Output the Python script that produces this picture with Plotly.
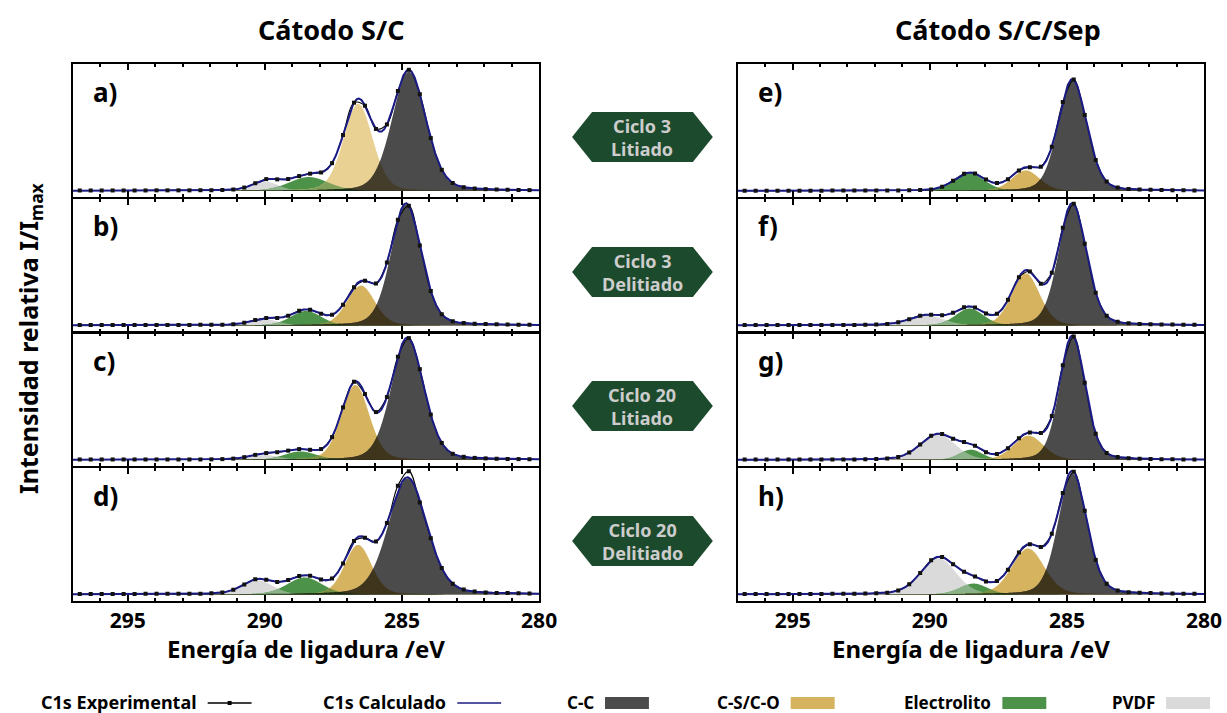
import numpy as np
import plotly.graph_objects as go

W, H = 1227, 713          # target picture size (px)
LAYOUT_W = 1243           # the page renders the figure 16px narrower than its layout width

# ---------------- data ----------------
panel_labels = ["a)", "b)", "c)", "d)", "e)", "f)", "g)", "h)"]
cycle_labels = ["Ciclo 3<br>Litiado", "Ciclo 3<br>Delitiado", "Ciclo 20<br>Litiado", "Ciclo 20<br>Delitiado"]
column_titles = ["Cátodo S/C", "Cátodo S/C/Sep"]
x_title = "Energía de ligadura /eV"
y_title = "Intensidad relativa I/I<sub>max</sub>"
legend_names = ["C1s Experimental", "C1s Calculado", "C-C", "C-S/C-O", "Electrolito", "PVDF"]

# binding energies of the experimental points (eV)
energy = [296.75, 296.35, 295.95, 295.55, 295.15, 294.75, 294.35, 293.95, 293.55, 293.15,
          292.75, 292.35, 291.95, 291.55, 291.15, 290.75, 290.35, 289.95, 289.55, 289.15,
          288.75, 288.35, 287.95, 287.55, 287.15, 286.75, 286.35, 285.95, 285.55, 285.15,
          284.75, 284.35, 283.95, 283.55, 283.15, 282.75, 282.35, 281.95, 281.55, 281.15,
          280.75, 280.35]

# experimental C1s intensities (I/Imax) per panel
exp_a = [0.004, 0.004, 0.004, 0.004, 0.004, 0.004, 0.004, 0.005, 0.005, 0.005,
         0.005, 0.006, 0.006, 0.008, 0.012, 0.028, 0.064, 0.098, 0.096, 0.099,
         0.123, 0.143, 0.153, 0.230, 0.463, 0.730, 0.705, 0.513, 0.550, 0.827,
         1.002, 0.800, 0.437, 0.175, 0.066, 0.031, 0.020, 0.015, 0.012, 0.010,
         0.008, 0.007]
exp_b = [0.004, 0.004, 0.004, 0.004, 0.004, 0.004, 0.004, 0.004, 0.004, 0.004,
         0.004, 0.005, 0.005, 0.006, 0.010, 0.023, 0.046, 0.062, 0.062, 0.081,
         0.122, 0.130, 0.096, 0.089, 0.172, 0.316, 0.370, 0.347, 0.520, 0.875,
         0.990, 0.661, 0.284, 0.093, 0.034, 0.021, 0.014, 0.011, 0.009, 0.007,
         0.006, 0.005]
exp_c = [0.004, 0.004, 0.004, 0.004, 0.004, 0.004, 0.004, 0.004, 0.004, 0.004,
         0.004, 0.004, 0.005, 0.007, 0.011, 0.023, 0.042, 0.057, 0.064, 0.077,
         0.090, 0.084, 0.090, 0.189, 0.435, 0.647, 0.545, 0.396, 0.520, 0.854,
         1.008, 0.751, 0.375, 0.141, 0.051, 0.026, 0.017, 0.013, 0.010, 0.008,
         0.007, 0.006]
exp_d = [0.004, 0.004, 0.004, 0.004, 0.004, 0.004, 0.005, 0.005, 0.005, 0.005,
         0.005, 0.006, 0.009, 0.016, 0.039, 0.083, 0.125, 0.122, 0.104, 0.119,
         0.153, 0.155, 0.123, 0.132, 0.257, 0.442, 0.468, 0.437, 0.590, 0.900,
         1.020, 0.760, 0.465, 0.218, 0.089, 0.041, 0.024, 0.017, 0.013, 0.011,
         0.009, 0.008]
exp_e = [0.002, 0.002, 0.002, 0.002, 0.002, 0.002, 0.002, 0.002, 0.003, 0.003,
         0.003, 0.003, 0.003, 0.004, 0.004, 0.005, 0.007, 0.013, 0.035, 0.085,
         0.142, 0.145, 0.094, 0.065, 0.097, 0.170, 0.197, 0.200, 0.366, 0.735,
         0.921, 0.629, 0.256, 0.078, 0.028, 0.016, 0.012, 0.009, 0.007, 0.006,
         0.005, 0.004]
exp_f = [0.003, 0.003, 0.003, 0.003, 0.003, 0.003, 0.004, 0.004, 0.004, 0.004,
         0.004, 0.005, 0.007, 0.012, 0.026, 0.052, 0.081, 0.089, 0.085, 0.105,
         0.151, 0.148, 0.098, 0.096, 0.212, 0.399, 0.446, 0.345, 0.436, 0.808,
         1.007, 0.676, 0.270, 0.081, 0.031, 0.018, 0.013, 0.010, 0.008, 0.007,
         0.006, 0.005]
exp_g = [0.003, 0.003, 0.003, 0.003, 0.003, 0.003, 0.003, 0.003, 0.003, 0.003,
         0.003, 0.006, 0.007, 0.011, 0.024, 0.061, 0.128, 0.200, 0.215, 0.175,
         0.149, 0.117, 0.063, 0.050, 0.097, 0.180, 0.228, 0.222, 0.363, 0.783,
         1.021, 0.638, 0.217, 0.058, 0.024, 0.015, 0.010, 0.008, 0.006, 0.005,
         0.004, 0.004]
exp_h = [0.003, 0.003, 0.003, 0.003, 0.003, 0.004, 0.004, 0.004, 0.005, 0.005,
         0.005, 0.007, 0.010, 0.015, 0.032, 0.084, 0.177, 0.282, 0.309, 0.250,
         0.188, 0.148, 0.107, 0.112, 0.204, 0.348, 0.416, 0.393, 0.503, 0.840,
         1.014, 0.693, 0.285, 0.089, 0.033, 0.019, 0.014, 0.011, 0.008, 0.007,
         0.006, 0.005]
experimental = [exp_a, exp_b, exp_c, exp_d, exp_e, exp_f, exp_g, exp_h]

# fitted components (pseudo-Voigt): centre (eV), height (I/Imax), FWHM (eV)
cc_center = [284.75, 284.85, 284.80, 284.80, 284.80, 284.80, 284.80, 284.80]
cc_height = [0.985, 1.000, 1.000, 0.960, 0.920, 1.000, 1.020, 1.000]
cc_fwhm = [1.45, 1.30, 1.40, 1.65, 1.22, 1.20, 1.10, 1.23]
cs_center = [286.60, 286.50, 286.70, 286.60, 286.50, 286.50, 286.40, 286.42]
cs_height = [0.720, 0.330, 0.620, 0.410, 0.170, 0.430, 0.200, 0.380]
cs_fwhm = [1.25, 1.20, 1.20, 1.15, 1.20, 1.20, 1.30, 1.40]
el_center = [288.40, 288.50, 288.70, 288.55, 288.55, 288.55, 288.50, 288.40]
el_height = [0.115, 0.120, 0.070, 0.140, 0.145, 0.140, 0.085, 0.090]
el_fwhm = [1.70, 1.30, 1.40, 1.50, 1.30, 1.20, 1.00, 1.20]
pv_center = [289.95, 290.00, 290.00, 290.25, 290.00, 290.10, 289.70, 289.68]
pv_height = [0.075, 0.050, 0.040, 0.115, 0.000, 0.080, 0.210, 0.300]
pv_fwhm = [1.10, 1.20, 1.30, 1.30, 1.20, 1.50, 1.50, 1.50]
lorentz_fraction = 0.2

# ---------------- styling ----------------
FONT = "Noto Sans"
COL_CC = (75, 75, 75)
COL_CS = (214, 179, 94)
COL_CS_A = (232, 209, 147)
COL_EL = (77, 146, 73)
COL_PV = (218, 218, 218)
NAVY = "#1b1b85"
HEX_GREEN = "#1c4a2c"


def rgb(c):
    return "rgb(%d,%d,%d)" % tuple(int(round(v)) for v in c)


def multiply(c1, c2):
    return tuple(a * b / 255.0 for a, b in zip(c1, c2))


def blend(c1, c2, f=0.5):
    return tuple(a * f + b * (1 - f) for a, b in zip(c1, c2))


def pvoigt(x, c, h, w, m=lorentz_fraction):
    t = (x - c) / w
    return h * ((1 - m) * np.exp(-4 * np.log(2) * t ** 2) + m / (1 + 4 * t ** 2))


def px(x):
    return x / W


def py(y):
    return 1 - y / H


def ann(x, y, text, size, color="black", xanchor="center", yanchor="middle", angle=0):
    fig.add_annotation(x=px(x), y=py(y), xref="paper", yref="paper", text=text,
                       showarrow=False, xanchor=xanchor, yanchor=yanchor,
                       textangle=angle, font=dict(family=FONT, size=size, color=color))


col_x = [(73, 540), (739, 1206)]
row_top = [64, 198.5, 333, 467.5]
row_h = 133

fig = go.Figure()
xf = np.linspace(297, 280, 1201)

for i in range(8):
    col, row = divmod(i, 4)
    n = i + 1
    xname = "x" if n == 1 else "x%d" % n
    yname = "y" if n == 1 else "y%d" % n

    cc = pvoigt(xf, cc_center[i], cc_height[i], cc_fwhm[i])
    cs = pvoigt(xf, cs_center[i], cs_height[i], cs_fwhm[i])
    el = pvoigt(xf, el_center[i], el_height[i], el_fwhm[i])
    pvdf = pvoigt(xf, pv_center[i], pv_height[i], pv_fwhm[i])
    total = cc + cs + el + pvdf
    ccs = COL_CS_A if i == 0 else COL_CS

    layers = [(pvdf, COL_PV), (el, COL_EL), (cs, ccs), (cc, COL_CC),
              (np.minimum(pvdf, el), blend(COL_PV, COL_EL, 0.45)),
              (np.minimum(el, cs), blend(multiply(COL_EL, ccs), blend(COL_EL, ccs), 0.3)),
              (np.minimum(cs, cc), multiply(ccs, COL_CC)),
              (np.minimum(el, cc), multiply(COL_EL, COL_CC))]
    for yv, c in layers:
        fig.add_trace(go.Scatter(x=xf, y=yv, mode="none", fill="tozeroy",
                                 fillcolor=rgb(c), xaxis=xname, yaxis=yname,
                                 showlegend=False, hoverinfo="skip"))

    fig.add_trace(go.Scatter(x=energy, y=experimental[i], mode="lines",
                             line=dict(color="black", width=1.1, shape="spline", smoothing=1.0),
                             xaxis=xname, yaxis=yname, showlegend=False, hoverinfo="skip"))
    fig.add_trace(go.Scatter(x=xf, y=total, mode="lines",
                             line=dict(color=NAVY, width=2),
                             xaxis=xname, yaxis=yname, showlegend=False, hoverinfo="skip"))
    fig.add_trace(go.Scatter(x=energy, y=experimental[i], mode="markers",
                             marker=dict(symbol="square", size=4, color="#111111"),
                             xaxis=xname, yaxis=yname, showlegend=False, hoverinfo="skip"))

    x0, x1 = col_x[col]
    top = row_top[row]
    xkey = "xaxis" if n == 1 else "xaxis%d" % n
    ykey = "yaxis" if n == 1 else "yaxis%d" % n
    fig.layout[xkey] = dict(
        domain=[px(x0), px(x1)], range=[297, 280], anchor=yname,
        showline=True, linewidth=2, linecolor="black", mirror="allticks",
        ticks="inside", ticklen=6, tickwidth=1.5, tickcolor="black",
        tickmode="linear", tick0=280, dtick=5,
        minor=dict(ticks="inside", ticklen=3, tickwidth=1.5, tickcolor="black", dtick=1, tick0=280),
        showticklabels=(row == 3),
        tickfont=dict(family=FONT, size=21, color="black", weight="bold"),
        showgrid=False, zeroline=False)
    fig.layout[ykey] = dict(
        domain=[py(top + row_h), py(top)], range=[-0.05, 1.05], anchor=xname,
        showline=True, linewidth=2, linecolor="black", mirror=True,
        ticks="", showticklabels=False, showgrid=False, zeroline=False)

    ann(x0 + 18, top + 28, "<b>%s</b>" % panel_labels[i], 26, xanchor="left")

# column titles and axis titles
title_cx = [332, 1000]
for c in range(2):
    x0, x1 = col_x[c]
    ann(title_cx[c], 30, "<b>%s</b>" % column_titles[c], 27)
    ann((x0 + x1) / 2, 648, "<b>%s</b>" % x_title, 24)

ann(29, 338, "<b>%s</b>" % y_title, 25, angle=-90)

# hexagon labels
hex_centers = [137, 272, 406, 541]
for k, yc in enumerate(hex_centers):
    xl, xr, xi0, xi1 = 573, 714, 593, 694
    yt, yb = yc - 25, yc + 25
    path = "M %f %f L %f %f L %f %f L %f %f L %f %f L %f %f Z" % (
        px(xl), py(yc), px(xi0), py(yt), px(xi1), py(yt),
        px(xr), py(yc), px(xi1), py(yb), px(xi0), py(yb))
    fig.add_shape(type="path", path=path, xref="paper", yref="paper",
                  fillcolor=HEX_GREEN, line=dict(width=0))
    ann((xl + xr) / 2, yc, "<b>%s</b>" % cycle_labels[k], 18, color="#cdcdcd")

# custom legend (text then symbol)
ly = 703
legend_sym_left = [208, 458, 606, 792, 1004, 1168]
legend_font = [18, 18, 17, 17, 17, 17]
sym_w = 44
for k, name in enumerate(legend_names):
    sx = legend_sym_left[k]
    ann(sx - 9, ly - 1, "<b>%s</b>" % name, legend_font[k], xanchor="right")
    if k == 0:
        fig.add_shape(type="line", x0=px(sx), x1=px(sx + sym_w), y0=py(ly), y1=py(ly),
                      xref="paper", yref="paper", line=dict(color="black", width=1.5))
        fig.add_shape(type="rect", x0=px(sx + 20), x1=px(sx + 24), y0=py(ly - 2), y1=py(ly + 2),
                      xref="paper", yref="paper", fillcolor="black", line=dict(width=0))
    elif k == 1:
        fig.add_shape(type="line", x0=px(sx), x1=px(sx + sym_w), y0=py(ly), y1=py(ly),
                      xref="paper", yref="paper", line=dict(color=NAVY, width=1.5))
    else:
        cfill = [COL_CC, COL_CS, COL_EL, COL_PV][k - 2]
        fig.add_shape(type="rect", x0=px(sx), x1=px(sx + sym_w), y0=py(ly + 6), y1=py(ly - 6),
                      xref="paper", yref="paper", fillcolor=rgb(cfill), line=dict(width=0))

fig.update_layout(width=LAYOUT_W, height=H, autosize=False,
                  margin=dict(l=0, r=0, t=0, b=0),
                  paper_bgcolor="white", plot_bgcolor="white",
                  font=dict(family=FONT, color="black"),
                  showlegend=False)

fig.write_html("out.html", config={"responsive": False, "displayModeBar": False},
               post_script="document.body.style.margin='0px';"
                           "document.body.style.overflow='hidden';")
